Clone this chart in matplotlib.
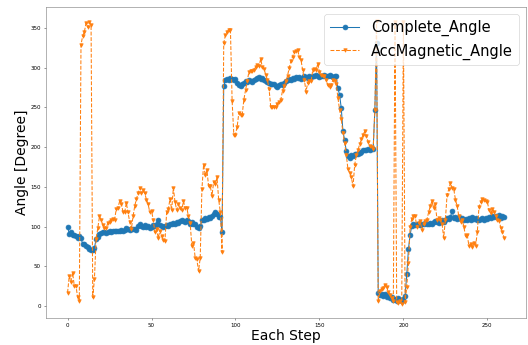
import numpy as np
import matplotlib
matplotlib.use("Agg")
import matplotlib.pyplot as plt

# Heading estimates per step (degrees)
complete_angle = [
    100, 91, 93, 90, 89, 88, 86, 88, 86, 78,
    78, 76, 75, 72, 71, 71, 73, 85, 87, 91,
    92, 93, 93, 92, 93, 94, 93, 94, 94, 95,
    94, 95, 96, 95, 96, 99, 97, 96, 97, 97,
    97, 96, 101, 104, 101, 100, 102, 100, 101, 99,
    100, 102, 101, 103, 109, 102, 101, 100, 101, 102,
    101, 104, 103, 105, 104, 106, 105, 107, 108, 107,
    106, 108, 107, 104, 106, 103, 104, 100, 99, 101,
    108, 109, 111, 110, 112, 111, 113, 116, 118, 116,
    112, 112, 93, 277, 285, 286, 285, 287, 286, 284,
    286, 281, 278, 277, 279, 281, 283, 282, 284, 283,
    282, 285, 286, 287, 288, 286, 287, 285, 283, 282,
    281, 280, 279, 280, 277, 276, 278, 279, 278, 281,
    283, 284, 286, 285, 287, 286, 288, 287, 288, 286,
    287, 289, 288, 287, 289, 288, 290, 289, 291, 290,
    288, 289, 290, 291, 289, 290, 291, 290, 288, 289,
    289, 274, 266, 249, 220, 209, 195, 189, 186, 190,
    189, 191, 192, 191, 193, 194, 196, 197, 196, 198,
    197, 199, 198, 247, 331, 17, 14, 16, 13, 15,
    12, 14, 10, 11, 8, 9, 6, 10, 8, 7,
    9, 13, 40, 72, 90, 101, 103, 102, 104, 103,
    102, 104, 103, 105, 104, 103, 105, 104, 106, 107,
    106, 105, 107, 108, 106, 109, 111, 110, 112, 120,
    111, 112, 110, 112, 110, 111, 109, 110, 108, 111,
    109, 112, 110, 111, 109, 108, 110, 111, 109, 111,
    110, 112, 111, 113, 112, 114, 112, 115, 111, 113,
    112,
]

acc_magnetic_angle = [
    17, 38, 31, 42, 26, 26, 11, 7, 329, 340,
    345, 356, 351, 357, 354, 11, 34, 85, 98, 113,
    109, 102, 98, 98, 105, 106, 109, 110, 109, 122,
    124, 132, 129, 119, 118, 130, 118, 106, 97, 113,
    126, 135, 142, 149, 142, 146, 142, 134, 128, 118,
    120, 109, 93, 97, 86, 95, 88, 83, 82, 118,
    122, 135, 121, 149, 131, 121, 128, 124, 121, 132,
    124, 124, 113, 105, 76, 80, 61, 59, 44, 61,
    147, 178, 165, 171, 151, 151, 139, 156, 154, 162,
    134, 118, 68, 331, 341, 345, 348, 347, 258, 216,
    216, 226, 243, 240, 241, 260, 272, 283, 295, 296,
    296, 297, 301, 303, 302, 311, 301, 299, 291, 285,
    273, 251, 250, 250, 251, 255, 257, 260, 271, 277,
    283, 290, 300, 308, 314, 320, 321, 322, 314, 310,
    297, 285, 270, 281, 283, 283, 297, 299, 297, 305,
    295, 291, 289, 289, 285, 278, 276, 278, 285, 283,
    280, 262, 247, 235, 218, 205, 190, 172, 168, 162,
    151, 178, 190, 197, 204, 210, 216, 220, 214, 207,
    201, 200, 198, 247, 359, 6, 19, 22, 23, 27,
    24, 18, 14, 10, 7, 358, 5, 4, 6, 3,
    358, 5, 24, 55, 100, 110, 113, 113, 100, 105,
    107, 96, 104, 107, 109, 118, 126, 132, 124, 128,
    109, 111, 109, 104, 86, 109, 140, 147, 155, 149,
    147, 134, 126, 113, 106, 109, 100, 88, 90, 76,
    78, 75, 79, 76, 93, 125, 131, 135, 134, 132,
    131, 121, 117, 122, 119, 114, 109, 107, 99, 93,
    86,
]

steps = np.arange(len(complete_angle))

fig = plt.figure(figsize=(10.56, 6.9), dpi=50)
ax = fig.add_axes([0.0866, 0.0783, 0.9096, 0.9023])

ax.plot(steps, complete_angle, '-o', color='#1f77b4', markersize=7,
        linewidth=1.5, label='Complete_Angle')
ax.plot(steps, acc_magnetic_angle, '--v', color='#ff7f0e', markersize=5,
        linewidth=1.5, label='AccMagnetic_Angle')

ax.set_xlabel('Each Step', fontsize=20, labelpad=2)
ax.set_ylabel('Angle [Degree]', fontsize=20, labelpad=2)
ax.tick_params(labelsize=8, color='#444444')
for sp in ax.spines.values():
    sp.set_color('#777777')
ax.legend(loc='upper right', fontsize=21)

fig.savefig('out.png', dpi=50)
